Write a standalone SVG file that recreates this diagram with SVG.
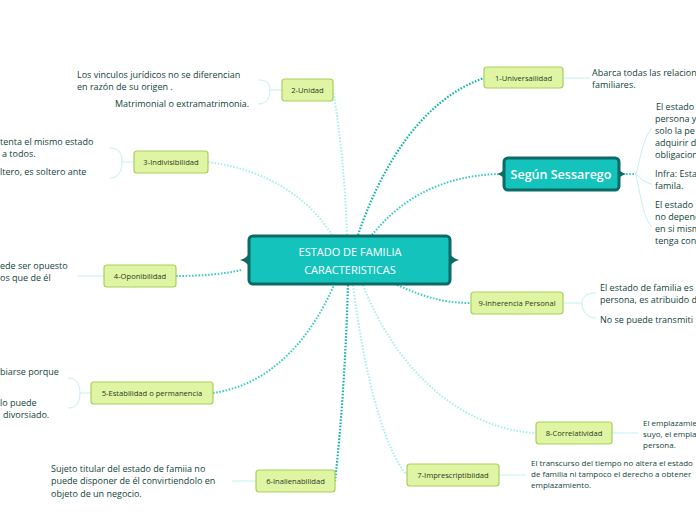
<svg xmlns="http://www.w3.org/2000/svg" width="696" height="520" viewBox="0 0 696 520">
<style>
.t{font-family:"Open Sans","Liberation Sans",sans-serif;font-size:9px;fill:#123f3c}
.s{font-family:"Open Sans","Liberation Sans",sans-serif;font-size:8px;fill:#123f3c}
.n rect{fill:#e0f5a4;stroke:#a8cf5c;stroke-width:1.2}
.n text{font-family:"Open Sans","Liberation Sans",sans-serif;font-size:7.6px;fill:#253a22;text-anchor:middle}
.dk{fill:none;stroke:#14b4ae;stroke-width:2.2;stroke-dasharray:1.6 1.6}
.md{fill:none;stroke:#3ccac4;stroke-width:2;stroke-dasharray:1.6 1.6}
.lt{fill:none;stroke:#aaeeed;stroke-width:2;stroke-dasharray:1.6 1.6}
.br{fill:none;stroke:#c5f0ef;stroke-width:1}
.c rect{fill:#15c3bd;stroke:#0c6b66;stroke-width:3}
.c path{fill:#0c6b66}
.c text{font-family:"Open Sans","Liberation Sans",sans-serif;fill:#ffffff;text-anchor:middle}
</style>
<rect width="696" height="520" fill="#ffffff"/>
<g id="connectors">
<path class="dk" d="M358,235 C380,170 420,100 484,78"/>
<path class="md" d="M372,235 C400,200 440,176 498,174"/>
<path class="lt" d="M333,90 C340,130 345,180 347,235"/>
<path class="lt" d="M208,162 C270,170 310,200 332,235"/>
<path class="md" d="M176,276 C200,276 225,274 241,270"/>
<path class="md" d="M213,393 C270,385 310,340 334,285"/>
<path class="dk" d="M348,285 C346,350 342,420 335,481"/>
<path class="lt" d="M353,285 C365,380 385,450 407,475"/>
<path class="lt" d="M363,285 C400,380 470,430 536,433"/>
<path class="md" d="M397,285 C420,295 440,303 471,303"/>
<path class="br" d="M282,90 H270 M270,90 C270,82 265,80 258,80 M270,90 C270,100 265,104 258,104"/>
<path class="br" d="M134,162 H122 M122,162 C122,152 118,148 110,148 M122,162 C122,172 118,178 110,178"/>
<path class="br" d="M104,276 H78"/>
<path class="br" d="M91,393 H80 M80,393 C80,382 75,378 68,378 M80,393 C80,404 75,408 68,408"/>
<path class="br" d="M256,481 H232"/>
<path class="br" d="M563,78 H590"/>
<path class="md" d="M626,174 H636"/>
<path class="br" d="M636,174 C642,150 645,135 652,128 M636,174 C642,180 646,183 652,184 M636,174 C642,205 645,220 652,227"/>
<path class="br" d="M563,303 H582 M582,303 C582,296 588,293 596,293 M582,303 C582,312 588,318 596,318"/>
<path class="br" d="M612,433 H638"/>
<path class="br" d="M499,475 H526"/>
</g>
<g id="center" class="c">
<rect x="249" y="236" width="201" height="48" rx="4"/>
<path d="M250,249 Q249,258 240,260 Q249,262 250,271 Z"/>
<path d="M449,249 Q450,258 459,260 Q450,262 449,271 Z"/>
<text x="350" y="256" font-size="11">ESTADO DE FAMILIA</text>
<text x="350" y="274" font-size="11">CARACTERISTICAS</text>
</g>
<g id="sessarego" class="c">
<rect x="504" y="158" width="115" height="32" rx="4"/>
<path d="M505,167 Q504,172 497,174 Q504,176 505,181 Z"/>
<path d="M618,167 Q619,172 626,174 Q619,176 618,181 Z"/>
<text x="561" y="179" font-size="12.5" font-weight="600">Según Sessarego</text>
</g>
<g id="n1" class="n"><rect x="484" y="67" width="79" height="21" rx="3"/><text x="523.5" y="80.5">1-Universailidad</text></g>
<g id="n2" class="n"><rect x="282" y="79" width="51" height="22" rx="3"/><text x="307.5" y="93">2-Unidad</text></g>
<g id="n3" class="n"><rect x="134" y="151" width="74" height="22" rx="3"/><text x="171" y="165">3-Indivisibilidad</text></g>
<g id="n4" class="n"><rect x="104" y="265" width="72" height="22" rx="3"/><text x="140" y="279">4-Oponibilidad</text></g>
<g id="n5" class="n"><rect x="91" y="382" width="122" height="22" rx="3"/><text x="152" y="396">5-Estabilidad o permanencia</text></g>
<g id="n6" class="n"><rect x="256" y="470" width="79" height="22" rx="3"/><text x="295.5" y="484">6-Inalienabilidad</text></g>
<g id="n7" class="n"><rect x="407" y="464" width="92" height="22" rx="3"/><text x="453" y="478">7-Imprescriptibiidad</text></g>
<g id="n8" class="n"><rect x="536" y="422" width="76" height="22" rx="3"/><text x="574" y="436">8-Correlatividad</text></g>
<g id="n9" class="n"><rect x="471" y="292" width="92" height="22" rx="3"/><text x="517" y="306">9-Inherencia Personal</text></g>
<g id="texts">
<text class="t" x="77" y="78">Los vinculos jurídicos no se diferencian</text>
<text class="t" x="77" y="90">en razón de su origen .</text>
<text class="t" x="115" y="107">Matrimonial o extramatrimonia.</text>
<text class="t" x="0" y="145">tenta el mismo estado</text>
<text class="t" x="2" y="157">a todos.</text>
<text class="t" x="0" y="175">ltero, es soltero ante</text>
<text class="t" x="0" y="269">ede ser opuesto</text>
<text class="t" x="0" y="281">os que de él</text>
<text class="t" x="0" y="375">biarse porque</text>
<text class="t" x="0" y="406">lo puede</text>
<text class="t" x="3" y="418">divorsiado.</text>
<text class="t" x="51" y="472">Sujeto titular del estado de famiia no</text>
<text class="t" x="51" y="484">puede disponer de él convirtiendolo en</text>
<text class="t" x="51" y="497">objeto de un negocio.</text>
<text class="t" x="592" y="76">Abarca todas las relacion</text>
<text class="t" x="592" y="88">familiares.</text>
<text class="t" x="656" y="110">El estado</text>
<text class="t" x="655" y="122">persona y</text>
<text class="t" x="655" y="134">solo la pe</text>
<text class="t" x="655" y="146">adquirir d</text>
<text class="t" x="655" y="158">obligacion</text>
<text class="t" x="655" y="177">Infra: Esta</text>
<text class="t" x="655" y="189">famila.</text>
<text class="t" x="655" y="208">El estado</text>
<text class="t" x="655" y="220">no depend</text>
<text class="t" x="655" y="232">en si mism</text>
<text class="t" x="655" y="244">tenga con</text>
<text class="t" x="600" y="291">El estado  de familia es</text>
<text class="t" x="600" y="303">persona, es atribuido d</text>
<text class="t" x="600" y="323">No se puede transmiti</text>
<text class="s" x="643" y="426">El emplazamie</text>
<text class="s" x="643" y="437">suyo, el empla</text>
<text class="s" x="643" y="448">persona.</text>
<text class="s" x="531" y="466">El transcurso del tiempo  no altera el estado</text>
<text class="s" x="531" y="477">de familia ni tampoco el derecho  a obtener</text>
<text class="s" x="531" y="488">emplazamiento.</text>
</g>
</svg>
